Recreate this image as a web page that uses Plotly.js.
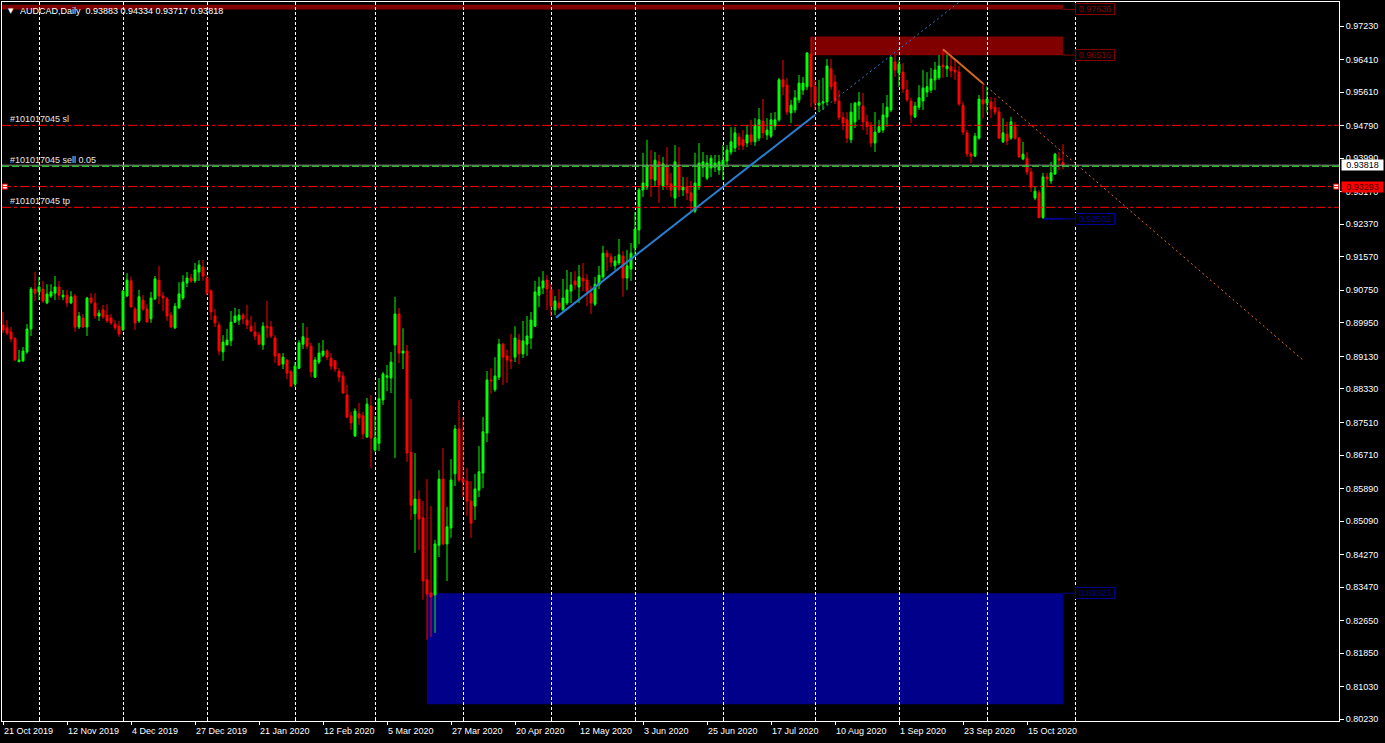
<!DOCTYPE html>
<html><head><meta charset="utf-8">
<script src="https://cdn.plot.ly/plotly-3.0.1.min.js"></script>
<style>html,body{margin:0;padding:0;background:#000;overflow:hidden}#chart{width:1385px;height:743px}</style>
</head><body><div id="chart"></div>
<script>
// ---------- data ----------
const symbolName = 'AUDCAD,Daily';
const firstDay = '2019-10-21';
const marketHolidays = ['2019-12-25', '2020-01-01'];

const openP = [
.8990,.8983,.8973,.8956,.8900,.8902,.8924,.8980,.9078,.9071,
.9078,.9044,.9061,.9068,.9083,.9059,.9063,.9044,.9061,.8985,
.9007,.8985,.9056,.9044,.9012,.9027,.9014,.9007,.8992,.8987,
.8978,.9061,.9098,.9029,.9000,.9051,.9029,.9005,.9054,.9100,
.9061,.9054,.9014,.8983,.9032,.9056,.9093,.9105,.9098,.9120,
.9132,.9105,.9073,.9012,.8990,.8924,.8941,.8951,.8997,.9002,
.9014,.9002,.8987,.8973,.8965,.8941,.8987,.8985,.8958,.8919,
.8894,.8904,.8875,.8845,.8884,.8943,.8958,.8938,.8862,.8899,
.8916,.8926,.8909,.8902,.8877,.8865,.8818,.8767,.8718,.8772,
.8767,.8715,.8791,.8683,.8700,.8806,.8862,.8860,.8941,.9017,
.8921,.8926,.8678,.8527,.8563,.8517,.8365,.8333,.8328,.8450,
.8612,.8453,.8492,.8625,.8735,.8612,.8607,.8558,.8546,.8585,
.8627,.8725,.8855,.8831,.8862,.8943,.8914,.8904,.8911,.8953,
.8919,.8943,.8958,.8987,.9063,.9081,.9100,.9076,.9027,.9044,
.9027,.9044,.9073,.9098,.9083,.9105,.9100,.9068,.9041,.9088,
.9108,.9166,.9157,.9135,.9142,.9159,.9105,.9127,.9179,.9223,
.9321,.9328,.9380,.9345,.9390,.9331,.9377,.9336,.9301,.9382,
.9321,.9328,.9314,.9269,.9328,.9377,.9350,.9375,.9377,.9370,
.9380,.9392,.9414,.9424,.9451,.9444,.9436,.9456,.9439,.9448,
.9490,.9456,.9453,.9478,.9493,.9591,.9578,.9510,.9517,.9542,
.9566,.9574,.9654,.9574,.9529,.9534,.9537,.9618,.9586,.9539,
.9499,.9493,.9444,.9488,.9529,.9527,.9488,.9476,.9436,.9463,
.9468,.9500,.9517,.9635,.9608,.9610,.9566,.9539,.9500,.9524,
.9539,.9561,.9566,.9591,.9596,.9627,.9618,.9623,.9615,.9610,
.9529,.9461,.9409,.9404,.9448,.9542,.9534,.9537,.9524,.9512,
.9439,.9458,.9448,.9476,.9448,.9397,.9399,.9365,.9301,.9314,
.9253,.9353,.9343,.9360,.9399,.93883];

const highP = [
.9022,.9002,.8985,.8961,.8929,.8936,.8992,.9083,.9120,.9108,
.9098,.9090,.9090,.9110,.9098,.9076,.9076,.9073,.9066,.9022,
.9017,.9059,.9068,.9068,.9027,.9039,.9041,.9017,.9002,.9000,
.9076,.9117,.9108,.9034,.9076,.9063,.9041,.9071,.9110,.9135,
.9071,.9059,.9022,.9044,.9095,.9112,.9120,.9115,.9142,.9149,
.9149,.9112,.9078,.9029,.8997,.8965,.8980,.9024,.9032,.9029,
.9019,.9039,.9012,.8997,.8973,.8997,.9049,.9000,.8965,.8921,
.8921,.8906,.8880,.8899,.8953,.8995,.8985,.8946,.8911,.8946,
.8953,.8931,.8921,.8904,.8884,.8875,.8843,.8777,.8786,.8799,
.8777,.8811,.8818,.8767,.8860,.8875,.8892,.8924,.9059,.9032,
.8982,.8941,.8809,.8676,.8585,.8558,.8612,.8546,.8463,.8634,
.8688,.8544,.8661,.8745,.8806,.8764,.8639,.8607,.8625,.8693,
.8764,.8877,.8884,.8911,.8956,.8946,.8929,.8968,.8987,.8968,
.9000,.9012,.9022,.9098,.9108,.9122,.9112,.9090,.9061,.9078,
.9103,.9125,.9120,.9122,.9137,.9142,.9115,.9086,.9108,.9135,
.9184,.9174,.9166,.9159,.9201,.9171,.9174,.9191,.9267,.9326,
.9412,.9444,.9419,.9414,.9407,.9402,.9426,.9363,.9431,.9426,
.9353,.9353,.9343,.9412,.9436,.9414,.9407,.9407,.9407,.9407,
.9431,.9431,.9475,.9475,.9461,.9468,.9480,.9493,.9497,.9522,
.9544,.9497,.9510,.9512,.9596,.9640,.9596,.9542,.9566,.9603,
.9598,.9659,.9696,.9591,.9591,.9596,.9642,.9642,.9603,.9566,
.9512,.9512,.9534,.9537,.9561,.9559,.9505,.9488,.9512,.9493,
.9534,.9554,.9647,.9652,.9640,.9632,.9591,.9547,.9537,.9578,
.9615,.9610,.9620,.9635,.9652,.9666,.9652,.9649,.9640,.9625,
.9537,.9468,.9414,.9461,.9554,.9583,.9574,.9549,.9547,.9524,
.9497,.9488,.9500,.9488,.9451,.9439,.9414,.9375,.9329,.9321,
.9363,.9363,.9390,.9412,.9414,.94334];

const lowP = [
.8970,.8965,.8948,.8902,.8898,.8899,.8919,.8963,.9049,.9051,
.9044,.9041,.9056,.9051,.9051,.9051,.9034,.9041,.8973,.8980,
.8983,.8963,.9041,.9005,.9000,.9005,.8995,.8990,.8978,.8961,
.8975,.9059,.9034,.8978,.8995,.9024,.8997,.8995,.9051,.9041,
.9024,.9000,.8983,.8980,.9029,.9051,.9083,.9093,.9093,.9098,
.9098,.9063,.9002,.8985,.8916,.8902,.8941,.8938,.8995,.8990,
.8992,.8980,.8973,.8953,.8941,.8929,.8958,.8958,.8897,.8889,
.8882,.8857,.8838,.8838,.8882,.8931,.8931,.8862,.8860,.8894,
.8911,.8904,.8880,.8875,.8850,.8821,.8762,.8733,.8715,.8745,
.8710,.8713,.8639,.8679,.8681,.8794,.8828,.8823,.8664,.8897,
.8882,.8654,.8512,.8431,.8438,.8316,.8218,.8225,.8235,.8421,
.8450,.8362,.8468,.8595,.8605,.8568,.8522,.8468,.8512,.8568,
.8590,.8703,.8821,.8826,.8855,.8843,.8848,.8882,.8899,.8894,
.8909,.8914,.8931,.8985,.9034,.9066,.9027,.9012,.9014,.9027,
.9024,.9039,.9044,.9076,.9044,.9073,.9036,.9017,.9036,.9078,
.9103,.9122,.9132,.9125,.9137,.9059,.9076,.9098,.9162,.9188,
.9304,.9321,.9304,.9331,.9289,.9321,.9321,.9304,.9279,.9304,
.9306,.9296,.9267,.9264,.9321,.9353,.9345,.9353,.9365,.9358,
.9345,.9382,.9407,.9414,.9419,.9419,.9426,.9431,.9429,.9441,
.9448,.9444,.9448,.9468,.9488,.9554,.9505,.9485,.9510,.9534,
.9554,.9566,.9524,.9517,.9512,.9517,.9529,.9566,.9532,.9492,
.9468,.9436,.9436,.9473,.9493,.9468,.9456,.9426,.9414,.9461,
.9461,.9476,.9512,.9598,.9574,.9559,.9537,.9485,.9497,.9517,
.9517,.9549,.9559,.9566,.9591,.9596,.9598,.9598,.9591,.9527,
.9456,.9402,.9387,.9402,.9444,.9497,.9510,.9497,.9505,.9446,
.9436,.9431,.9444,.9444,.9400,.9394,.9358,.9316,.9296,.9252,
.92502,.9328,.9336,.9358,.9370,.93717];

const closeP = [
.8978,.8970,.8956,.8904,.8904,.8926,.8980,.9078,.9068,.9083,
.9049,.9066,.9071,.9083,.9063,.9063,.9044,.9059,.8985,.9012,
.8985,.9056,.9046,.9012,.9019,.9010,.9000,.8995,.8983,.8968,
.9073,.9100,.9034,.8995,.9059,.9029,.8997,.9056,.9103,.9061,
.9056,.9012,.8985,.9036,.9066,.9095,.9105,.9098,.9125,.9137,
.9110,.9068,.9022,.8995,.8926,.8948,.8953,.8997,.9012,.9014,
.9005,.8990,.8975,.8963,.8943,.8987,.8983,.8963,.8914,.8892,
.8911,.8872,.8840,.8889,.8946,.8961,.8938,.8875,.8904,.8921,
.8926,.8911,.8889,.8882,.8862,.8823,.8764,.8750,.8779,.8762,
.8723,.8796,.8713,.8713,.8809,.8870,.8865,.8899,.9017,.8921,
.8926,.8676,.8548,.8563,.8514,.8362,.8330,.8323,.8453,.8612,
.8453,.8495,.8610,.8735,.8610,.8605,.8558,.8504,.8588,.8630,
.8728,.8855,.8853,.8865,.8943,.8911,.8904,.8902,.8958,.8919,
.8951,.8963,.9002,.9071,.9083,.9098,.9078,.9036,.9049,.9032,
.9056,.9076,.9088,.9088,.9108,.9098,.9073,.9044,.9090,.9112,
.9166,.9157,.9144,.9147,.9162,.9105,.9135,.9166,.9225,.9321,
.9338,.9382,.9348,.9394,.9333,.9385,.9333,.9321,.9390,.9321,
.9328,.9314,.9294,.9338,.9387,.9390,.9387,.9399,.9387,.9390,
.9394,.9419,.9439,.9461,.9431,.9429,.9456,.9439,.9480,.9493,
.9461,.9468,.9493,.9493,.9591,.9574,.9512,.9529,.9547,.9583,
.9583,.9657,.9574,.9534,.9534,.9537,.9625,.9574,.9539,.9499,
.9485,.9448,.9512,.9534,.9537,.9488,.9476,.9436,.9463,.9476,
.9505,.9524,.9647,.9615,.9630,.9569,.9542,.9505,.9527,.9547,
.9571,.9574,.9593,.9615,.9625,.9623,.9625,.9613,.9610,.9532,
.9463,.9409,.9404,.9453,.9544,.9532,.9544,.9520,.9512,.9448,
.9461,.9441,.9488,.9448,.9402,.9409,.9365,.9328,.9318,.9253,
.9353,.9348,.9363,.9409,.9394,.93818];

const yTickVals = [0.97230,0.96410,0.95610,0.94790,0.93990,0.93170,0.92370,0.91570,0.90750,0.89950,0.89130,
                   0.88330,0.87510,0.86710,0.85890,0.85090,0.84270,0.83470,0.82650,0.81850,0.81030,0.80230];

// price zones: [lower, upper], start bar
const zonePrices = [[0.97636, 0.97750], [0.96516, 0.96970], [0.80600, 0.83323], [0.92502, 0.92502]];
const zoneStartBars = [-5, 202, 106, 260];
const zoneLabelPrices = [0.97636, 0.96516, 0.83323, 0.92502];
const zoneColors = ['#800000', '#800000', '#00008b', '#000090'];

// order / level lines
const orderTicket = '#101017045';
const orderSL = 0.94795, orderOpen = 0.93792, orderTP = 0.92784, hLinePrice = 0.93293;

// trend lines (bar index, price)
const blueTrendBars = [138.25, 203], blueTrendPrices = [0.9008, 0.9505];
const orangeTrendBars = [235, 245, 325], orangeTrendPrices = [0.9666, 0.9582, 0.8904];

// ---------- helpers ----------
const FONT = "Tahoma, 'Liberation Sans', Arial, sans-serif";
const MONTHS = ['Jan','Feb','Mar','Apr','May','Jun','Jul','Aug','Sep','Oct','Nov','Dec'];
function tradingDays(start, count, holidays) {
  const out = []; const d = new Date(start + 'T00:00:00Z');
  while (out.length < count) {
    const wd = d.getUTCDay(); const iso = d.toISOString().slice(0, 10);
    if (wd !== 0 && wd !== 6 && !holidays.includes(iso)) out.push(new Date(d));
    d.setUTCDate(d.getUTCDate() + 1);
  }
  return out;
}
const fmtDate = d => d.getUTCDate() + ' ' + MONTHS[d.getUTCMonth()] + ' ' + d.getUTCFullYear();

const n = closeP.length;
const idx = closeP.map((_, i) => i);
const xRange = [-0.25, 334];
const yRange = [0.80189, 0.97819];
const lastBar = n - 1;
const days = tradingDays(firstDay, n + 10, marketHolidays);
const labelBars = []; for (let i = 0; i < n; i += 16) labelBars.push(i);
// month separators: up to the first month start after the last bar
const monthStarts = [];
for (let i = 1; i < days.length; i++) {
  if (days[i].getUTCMonth() !== days[i - 1].getUTCMonth()) {
    monthStarts.push(i);
    if (i > lastBar) break;
  }
}

const shapes = [];
const annotations = [];

// zones (background)
zonePrices.forEach((z, k) => {
  if (z[0] === z[1]) {
    shapes.push({type:'line', xref:'x', yref:'y', x0:zoneStartBars[k], x1:lastBar, y0:z[0], y1:z[1],
      line:{color:zoneColors[k], width:2}, layer:'below'});
  } else {
    shapes.push({type:'rect', xref:'x', yref:'y', x0:zoneStartBars[k], x1:lastBar, y0:z[0], y1:z[1],
      fillcolor:zoneColors[k], line:{width:0}, layer:'below'});
  }
  const lp = zoneLabelPrices[k];
  shapes.push({type:'line', xref:'x', yref:'y', x0:lastBar, x1:lastBar + 3, y0:lp, y1:lp,
    line:{color:zoneColors[k], width:1}, layer:'above'});
  annotations.push({xref:'x', yref:'y', x:lastBar + 3, y:lp, xanchor:'left', yanchor:'middle',
    text:lp.toFixed(5), showarrow:false, font:{family:FONT, size:9, color:zoneColors[k]},
    bordercolor:zoneColors[k], borderwidth:1, borderpad:0, width:38, height:10});
});

// horizontal order lines
function hline(price, color, dash, width) {
  shapes.push({type:'line', xref:'paper', yref:'y', x0:0, x1:1, y0:price, y1:price,
    line:{color:color, width:width || 1, dash:dash}, layer:'above'});
}
hline(orderSL, '#ff0000', '9px,3px,3px,3px');
hline(orderTP, '#ff0000', '9px,3px,3px,3px');
hline(hLinePrice, '#ff0000', '9px,3px,3px,3px');
hline(closeP[lastBar], '#909090', 'solid');
hline(orderOpen, '#2db82d', '7px,3px', 1.5);

[[orderSL, orderTicket + ' sl'], [orderOpen, orderTicket + ' sell 0.05'], [orderTP, orderTicket + ' tp']].forEach(([p, t]) => {
  annotations.push({xref:'paper', yref:'y', x:0, y:p, xanchor:'left', yanchor:'middle', xshift:6, yshift:6,
    text:t, showarrow:false, font:{family:FONT, size:9, color:'#e8e8e8'}});
});

// trend lines
const blueSlope = (blueTrendPrices[1] - blueTrendPrices[0]) / (blueTrendBars[1] - blueTrendBars[0]);
const blueExtBar = blueTrendBars[1] + (yRange[1] - blueTrendPrices[1]) / blueSlope + 3;
shapes.push({type:'line', xref:'x', yref:'y', x0:blueTrendBars[1], y0:blueTrendPrices[1],
  x1:blueExtBar, y1:blueTrendPrices[1] + blueSlope * (blueExtBar - blueTrendBars[1]),
  line:{color:'#2a7fd4', width:1, dash:'2px,3px'}, layer:'above'});
shapes.push({type:'line', xref:'x', yref:'y', x0:blueTrendBars[0], y0:blueTrendPrices[0],
  x1:blueTrendBars[1], y1:blueTrendPrices[1], line:{color:'#2a7fd4', width:2}, layer:'above'});
shapes.push({type:'line', xref:'x', yref:'y', x0:orangeTrendBars[1], y0:orangeTrendPrices[1],
  x1:orangeTrendBars[2], y1:orangeTrendPrices[2], line:{color:'#e07020', width:1, dash:'2px,3px'}, layer:'above'});
shapes.push({type:'line', xref:'x', yref:'y', x0:orangeTrendBars[0], y0:orangeTrendPrices[0],
  x1:orangeTrendBars[1], y1:orangeTrendPrices[1], line:{color:'#d2691e', width:2}, layer:'above'});

// date labels
labelBars.forEach(i => {
  annotations.push({xref:'x', yref:'paper', x:i, y:0, xanchor:'left', yanchor:'top', xshift:-1, yshift:-3,
    text:fmtDate(days[i]), showarrow:false, font:{family:FONT, size:9, color:'#ffffff'}});
});

// right-axis price tags
annotations.push({xref:'paper', yref:'y', x:1, y:closeP[lastBar], xanchor:'left', yanchor:'middle', xshift:2,
  text:closeP[lastBar].toFixed(5), showarrow:false, bgcolor:'#ffffff', font:{family:FONT, size:9, color:'#000000'},
  borderpad:0, width:41, height:10});
annotations.push({xref:'paper', yref:'y', x:1, y:hLinePrice, xanchor:'left', yanchor:'middle', xshift:2,
  text:hLinePrice.toFixed(5), showarrow:false, bgcolor:'#ff0000', font:{family:FONT, size:9, color:'#4a0000'},
  borderpad:0, width:41, height:10});

// header
annotations.push({xref:'paper', yref:'paper', x:0, y:1, xanchor:'left', yanchor:'middle', xshift:4, yshift:-9,
  text:'▼', showarrow:false, font:{family:'DejaVu Sans', size:7, color:'#ffffff'}});
annotations.push({xref:'paper', yref:'paper', x:0, y:1, xanchor:'left', yanchor:'middle', xshift:16, yshift:-9,
  text:symbolName + '  ' + [openP[lastBar], highP[lastBar], lowP[lastBar], closeP[lastBar]].map(v => v.toFixed(5)).join(' '),
  showarrow:false, font:{family:FONT, size:9, color:'#ffffff'}});

const traces = [
  {type:'candlestick', x:idx, open:openP, high:highP, low:lowP, close:closeP,
   increasing:{line:{color:'#00ff00', width:1}, fillcolor:'#00ff00'},
   decreasing:{line:{color:'#ff0000', width:1}, fillcolor:'#ff0000'},
   whiskerwidth:0, hoverinfo:'skip', showlegend:false},
  {type:'scatter', mode:'markers', x:[xRange[0] + 0.7, xRange[1] - 0.7], y:[hLinePrice, hLinePrice],
   marker:{symbol:'square', size:5, color:'#ffffff', line:{color:'#ff0000', width:1}},
   hoverinfo:'skip', showlegend:false, cliponaxis:false}
];

const layout = {
  width:1385, height:743,
  paper_bgcolor:'#000000', plot_bgcolor:'#000000',
  margin:{l:2, r:46, t:2, b:22, pad:0},
  showlegend:false,
  xaxis:{type:'linear', range:xRange, rangeslider:{visible:false}, showgrid:false, zeroline:false,
    showline:true, linecolor:'#ffffff', linewidth:1, mirror:true,
    tickmode:'array', tickvals:labelBars, ticks:'outside', ticklen:3, tickcolor:'#ffffff', showticklabels:false,
    minor:{tickmode:'array', tickvals:monthStarts, ticks:'inside', ticklen:3, tickcolor:'#ffffff',
      showgrid:true, gridcolor:'#ffffff', griddash:'3px,2px', gridwidth:1},
    fixedrange:true, automargin:false},
  yaxis:{side:'right', range:yRange, tickmode:'array', tickvals:yTickVals, ticktext:yTickVals.map(v => v.toFixed(5)),
    ticks:'outside', ticklen:4, tickcolor:'#ffffff', tickfont:{family:FONT, size:9, color:'#ffffff'},
    showgrid:false, zeroline:false, showline:true, linecolor:'#ffffff', linewidth:1, mirror:true,
    fixedrange:true, automargin:false},
  shapes:shapes,
  annotations:annotations
};

Plotly.newPlot('chart', traces, layout, {displayModeBar:false, staticPlot:true});
</script>
</body></html>
